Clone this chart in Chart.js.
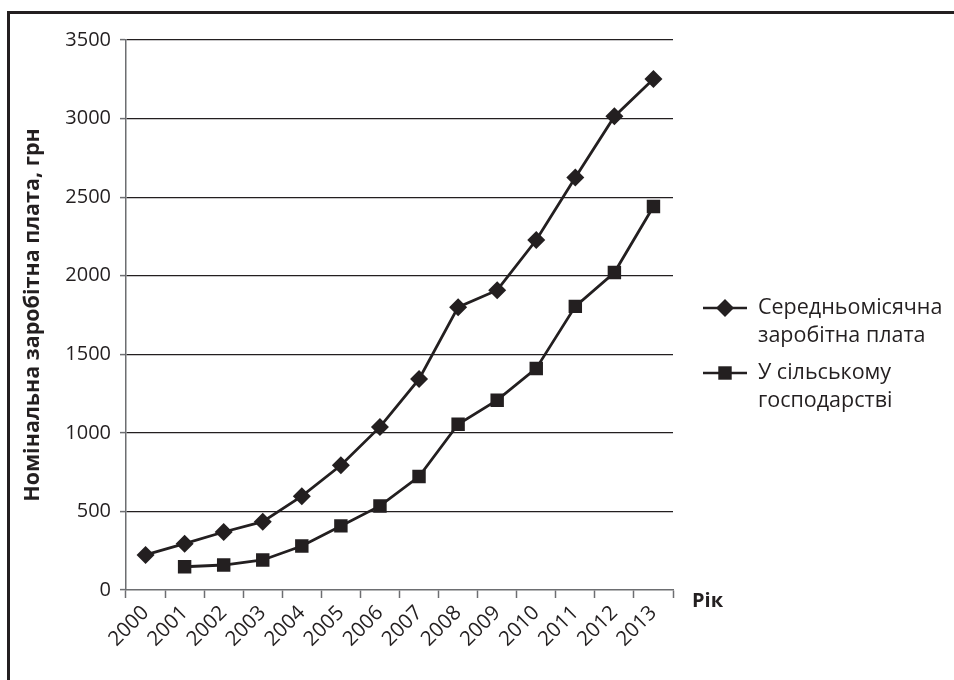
<!DOCTYPE html>
<html>
<head>
<meta charset="utf-8">
<script src="https://cdn.jsdelivr.net/npm/chart.js@4.4.1/dist/chart.umd.min.js"></script>
<style>
  html, body { margin: 0; padding: 0; background: #fff; }
  #wrap { width: 954px; height: 680px; position: relative; }
</style>
</head>
<body>
<div id="wrap"><canvas id="wageCanvas"></canvas></div>
<script>
// Data
const years = ['2000', '2001', '2002', '2003', '2004', '2005', '2006',
  '2007', '2008', '2009', '2010', '2011', '2012', '2013'];
const avgWage = [223, 295, 369, 435, 597, 794, 1038, 1342, 1800, 1908, 2227, 2625, 3014, 3252];
const agroWage = [null, 148, 159, 191, 280, 408, 535, 722, 1055, 1208, 1410, 1805, 2020, 2440];
const avgLabel = ['Середньомісячна', 'заробітна плата'];
const agroLabel = ['У сільському', 'господарстві'];
const yTitle = 'Номінальна заробітна плата, грн';
const xTitle = 'Рік';

const INK = '#231f20';
const AXIS = '#6d6e71';
const FONT = "'Open Sans', sans-serif";

// frame on left and top edges, like the scanned figure
const framePlugin = {
  id: 'frame',
  beforeDraw(chart) {
    const ctx = chart.ctx;
    ctx.save();
    ctx.strokeStyle = INK;
    ctx.lineWidth = 3;
    ctx.beginPath();
    ctx.moveTo(8.5, chart.height);
    ctx.lineTo(8.5, 12.5);
    ctx.lineTo(chart.width, 12.5);
    ctx.stroke();
    ctx.restore();
  }
};

// "Рік" next to the right end of the x axis
const xTitlePlugin = {
  id: 'xTitle',
  afterDraw(chart) {
    const ctx = chart.ctx;
    const area = chart.chartArea;
    ctx.save();
    ctx.fillStyle = INK;
    ctx.font = "bold 20px " + FONT;
    ctx.textBaseline = 'middle';
    ctx.textAlign = 'left';
    ctx.fillText(xTitle, area.right + 19, area.bottom + 11);
    ctx.restore();
  }
};

// legend with wrapped labels on the right
const sideLegend = {
  id: 'sideLegend',
  afterDraw(chart) {
    const ctx = chart.ctx;
    const area = chart.chartArea;
    const x0 = area.right + 30;
    let y = 308;
    ctx.save();
    chart.data.datasets.forEach(ds => {
      ctx.strokeStyle = INK;
      ctx.lineWidth = 2.5;
      ctx.beginPath();
      ctx.moveTo(x0, y);
      ctx.lineTo(x0 + 44, y);
      ctx.stroke();
      ctx.fillStyle = INK;
      Chart.helpers.drawPoint(ctx, {
        pointStyle: ds.pointStyle,
        radius: ds.pointRadius,
        rotation: 0,
        borderWidth: 0
      }, x0 + 22, y);
      ctx.font = "21.5px " + FONT;
      ctx.textBaseline = 'middle';
      ctx.textAlign = 'left';
      ds.legendLines.forEach((line, i) => {
        ctx.fillText(line, x0 + 55, y + i * 28);
      });
      y += 65;
    });
    ctx.restore();
  }
};

const ctx = document.getElementById('wageCanvas').getContext('2d');
const wageChart = new Chart(ctx, {
  type: 'line',
  data: {
    labels: years,
    datasets: [{
      label: avgLabel.join(' '),
      legendLines: avgLabel,
      data: avgWage,
      borderColor: INK,
      backgroundColor: INK,
      borderWidth: 2.8,
      pointStyle: 'rectRot',
      pointRadius: 9,
      pointBorderWidth: 0,
      tension: 0
    }, {
      label: agroLabel.join(' '),
      legendLines: agroLabel,
      data: agroWage,
      borderColor: INK,
      backgroundColor: INK,
      borderWidth: 2.8,
      pointStyle: 'rect',
      pointRadius: 9.5,
      pointBorderWidth: 0,
      tension: 0
    }]
  },
  options: {
    responsive: true,
    maintainAspectRatio: false,
    animation: false,
    layout: {
      padding: { left: 0, top: 40, right: 281, bottom: 0 }
    },
    plugins: {
      legend: { display: false },
      tooltip: { enabled: false }
    },
    scales: {
      x: {
        type: 'category',
        offset: true,
        grid: {
          offset: true,
          drawOnChartArea: false,
          drawTicks: true,
          tickLength: 8,
          tickColor: AXIS,
          tickWidth: 1.5
        },
        border: { color: AXIS, width: 1.5 },
        ticks: {
          minRotation: 45,
          maxRotation: 45,
          padding: 3,
          color: INK,
          font: { size: 20.5, family: FONT }
        },
        afterFit(scale) { scale.height = 90; }
      },
      y: {
        min: 0,
        max: 3500,
        ticks: {
          stepSize: 500,
          padding: 9,
          color: INK,
          font: { size: 20, family: FONT },
          callback: v => String(v)
        },
        grid: {
          color: c => (c.tick && c.tick.value === 0) ? 'rgba(0,0,0,0)' : INK,
          lineWidth: 1.2,
          tickLength: 6,
          tickColor: AXIS,
          tickWidth: 1.5
        },
        border: { color: AXIS, width: 1.5 },
        title: {
          display: true,
          text: yTitle,
          color: INK,
          padding: { top: 20, bottom: 0 },
          font: { size: 21.5, weight: 'bold', family: FONT }
        },
        afterFit(scale) { scale.width = 126; }
      }
    }
  },
  plugins: [framePlugin, xTitlePlugin, sideLegend]
});
</script>
</body>
</html>
